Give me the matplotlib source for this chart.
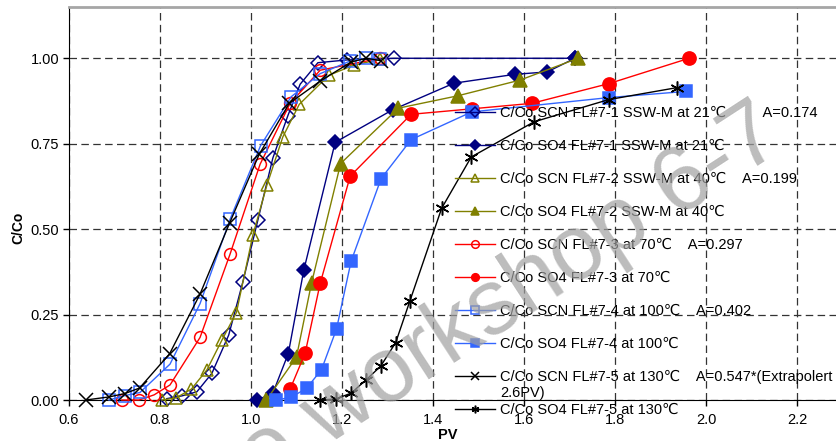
import matplotlib
matplotlib.use("Agg")
import matplotlib.pyplot as plt
from matplotlib.ticker import MultipleLocator, FormatStrFormatter

plt.rcParams['font.family'] = ['Liberation Sans', 'DejaVu Sans']

# Tracer breakthrough curves, C/Co against pore volumes injected
scn71_pv = [0.815, 0.848, 0.881, 0.914, 0.951, 0.982, 1.015, 1.048, 1.081, 1.108, 1.147, 1.210, 1.314, 1.712]
scn71_c = [0.004, 0.012, 0.024, 0.078, 0.190, 0.345, 0.526, 0.708, 0.832, 0.924, 0.987, 0.995, 1.000, 1.000]

so471_pv = [1.014, 1.048, 1.082, 1.116, 1.185, 1.311, 1.446, 1.580, 1.651, 1.712]
so471_c = [0.000, 0.020, 0.136, 0.380, 0.754, 0.849, 0.927, 0.953, 0.960, 1.000]

scn72_pv = [0.804, 0.835, 0.869, 0.903, 0.936, 0.968, 1.004, 1.035, 1.070, 1.106, 1.171, 1.226, 1.284]
scn72_c = [0.000, 0.006, 0.032, 0.088, 0.175, 0.256, 0.482, 0.629, 0.770, 0.865, 0.950, 0.980, 0.997]

so472_pv = [1.034, 1.100, 1.133, 1.197, 1.324, 1.454, 1.591, 1.719]
so472_c = [0.000, 0.126, 0.342, 0.692, 0.854, 0.890, 0.936, 1.000]

scn73_pv = [0.716, 0.754, 0.787, 0.822, 0.888, 0.954, 1.020, 1.086, 1.152, 1.284]
scn73_c = [0.000, 0.000, 0.015, 0.044, 0.183, 0.427, 0.690, 0.868, 0.965, 1.000]

so473_pv = [1.086, 1.119, 1.152, 1.218, 1.352, 1.485, 1.617, 1.787, 1.963]
so473_c = [0.032, 0.137, 0.341, 0.655, 0.836, 0.852, 0.868, 0.926, 1.000]

scn74_pv = [0.688, 0.723, 0.756, 0.822, 0.888, 0.954, 1.021, 1.088, 1.152, 1.218, 1.252, 1.284]
scn74_c = [0.000, 0.013, 0.022, 0.105, 0.282, 0.529, 0.744, 0.887, 0.955, 0.992, 1.000, 0.997]

so474_pv = [1.056, 1.088, 1.122, 1.155, 1.188, 1.220, 1.286, 1.352, 1.485, 1.787, 1.956]
so474_c = [0.000, 0.008, 0.034, 0.089, 0.208, 0.406, 0.648, 0.762, 0.843, 0.885, 0.903]

scn75_pv = [0.637, 0.688, 0.723, 0.755, 0.821, 0.888, 0.953, 1.018, 1.084, 1.152, 1.220, 1.253, 1.286]
scn75_c = [0.000, 0.009, 0.019, 0.035, 0.135, 0.310, 0.518, 0.719, 0.868, 0.933, 0.989, 1.000, 0.993]

so475_pv = [1.152, 1.186, 1.220, 1.253, 1.285, 1.318, 1.349, 1.419, 1.484, 1.622, 1.786, 1.936]
so475_c = [0.000, 0.003, 0.020, 0.059, 0.099, 0.168, 0.289, 0.561, 0.711, 0.814, 0.879, 0.914]

labels = [
    "C/Co SCN FL#7-1 SSW-M at 21\u2103         A=0.174",
    "C/Co SO4 FL#7-1 SSW-M at 21\u2103",
    "C/Co SCN FL#7-2 SSW-M at 40\u2103    A=0.199",
    "C/Co SO4 FL#7-2 SSW-M at 40\u2103",
    "C/Co SCN FL#7-3 at 70\u2103    A=0.297",
    "C/Co SO4 FL#7-3 at 70\u2103",
    "C/Co SCN FL#7-4 at 100\u2103    A=0.402",
    "C/Co SO4 FL#7-4 at 100\u2103",
    "C/Co SCN FL#7-5 at 130\u2103    A=0.547*(Extrapolert",
    "C/Co SO4 FL#7-5 at 130\u2103",
]

NAVY = '#000080'
OLIVE = '#808000'
RED = '#ff0000'
BLUE = '#3366ff'

series = [
    (scn71_pv, scn71_c, NAVY, 'D', 'none', 7),
    (so471_pv, so471_c, NAVY, 'D', NAVY, 7.5),
    (scn72_pv, scn72_c, OLIVE, '^', 'none', 9),
    (so472_pv, so472_c, OLIVE, '^', OLIVE, 9.5),
    (scn73_pv, scn73_c, RED, 'o', 'none', 8.5),
    (so473_pv, so473_c, RED, 'o', RED, 9.5),
    (scn74_pv, scn74_c, BLUE, 's', 'none', 8.5),
    (so474_pv, so474_c, BLUE, 's', BLUE, 9),
    (scn75_pv, scn75_c, 'black', 'x', 'none', 10),
    (so475_pv, so475_c, 'black', (6, 2, 0), 'none', 10),
]

fig = plt.figure(figsize=(8.37, 4.41), dpi=100)
W, H = 837.0, 441.0
ax = fig.add_axes([69 / W, 41 / H, 819 / W, 393 / H])

for (pv, c, col, mk, face, ms), lab in zip(series, labels):
    ax.plot(pv, c, color=col, lw=1.0, marker=mk, markersize=ms,
            markerfacecolor=face, markeredgecolor=col, markeredgewidth=1.1,
            label=lab, clip_on=False, zorder=3)

ax.set_xlim(0.6, 2.4)
ax.set_ylim(0, 1.15)
ax.xaxis.set_major_locator(MultipleLocator(0.2))
ax.yaxis.set_major_locator(MultipleLocator(0.25))
ax.xaxis.set_major_formatter(FormatStrFormatter('%.1f'))
ax.yaxis.set_major_formatter(FormatStrFormatter('%.2f'))
ax.tick_params(axis='both', direction='out', length=4, width=1, labelsize=10.5, color='black')
ax.tick_params(axis='x', pad=5)
ax.tick_params(axis='y', pad=3)

ax.grid(True, which='major', color='#333333', linestyle=(0, (6, 3.5)), linewidth=0.9)
ax.set_axisbelow(True)

ax.spines['left'].set_color('black')
ax.spines['bottom'].set_color('black')
ax.spines['top'].set_color('#a6a6a6')
ax.spines['top'].set_linewidth(2)
ax.spines['right'].set_visible(False)

ax.set_xlabel('PV', fontsize=10.5, fontweight='bold')
ax.xaxis.set_label_coords((448 - 69) / 819, -(428 - 400) / 393)
ax.set_ylabel('C/Co', fontsize=10, fontweight='bold')
ax.yaxis.set_label_coords(-(69 - 25) / 819, (400 - 228) / 393)

leg = fig.legend(loc='upper left', bbox_to_anchor=(455 / W, 1 - 106 / H),
                 frameon=False, fontsize=10.5, handlelength=2.75,
                 handletextpad=0.35, labelspacing=1.3, borderpad=0,
                 borderaxespad=0)
for h in leg.legend_handles:
    h.set_markersize(5.5)
leg.set_zorder(5)

fig.text(500 / W, 1 - 393 / H, '2.6PV)', fontsize=10.5, ha='left', va='center')

# watermark
fig.text(262 / W, 1 - 488 / H, 'e workshop 6-7', fontsize=66, color='#a0a0a0',
         alpha=0.7, rotation=33, rotation_mode='anchor', ha='left',
         va='baseline', zorder=10)

fig.savefig('out.png', dpi=100)
